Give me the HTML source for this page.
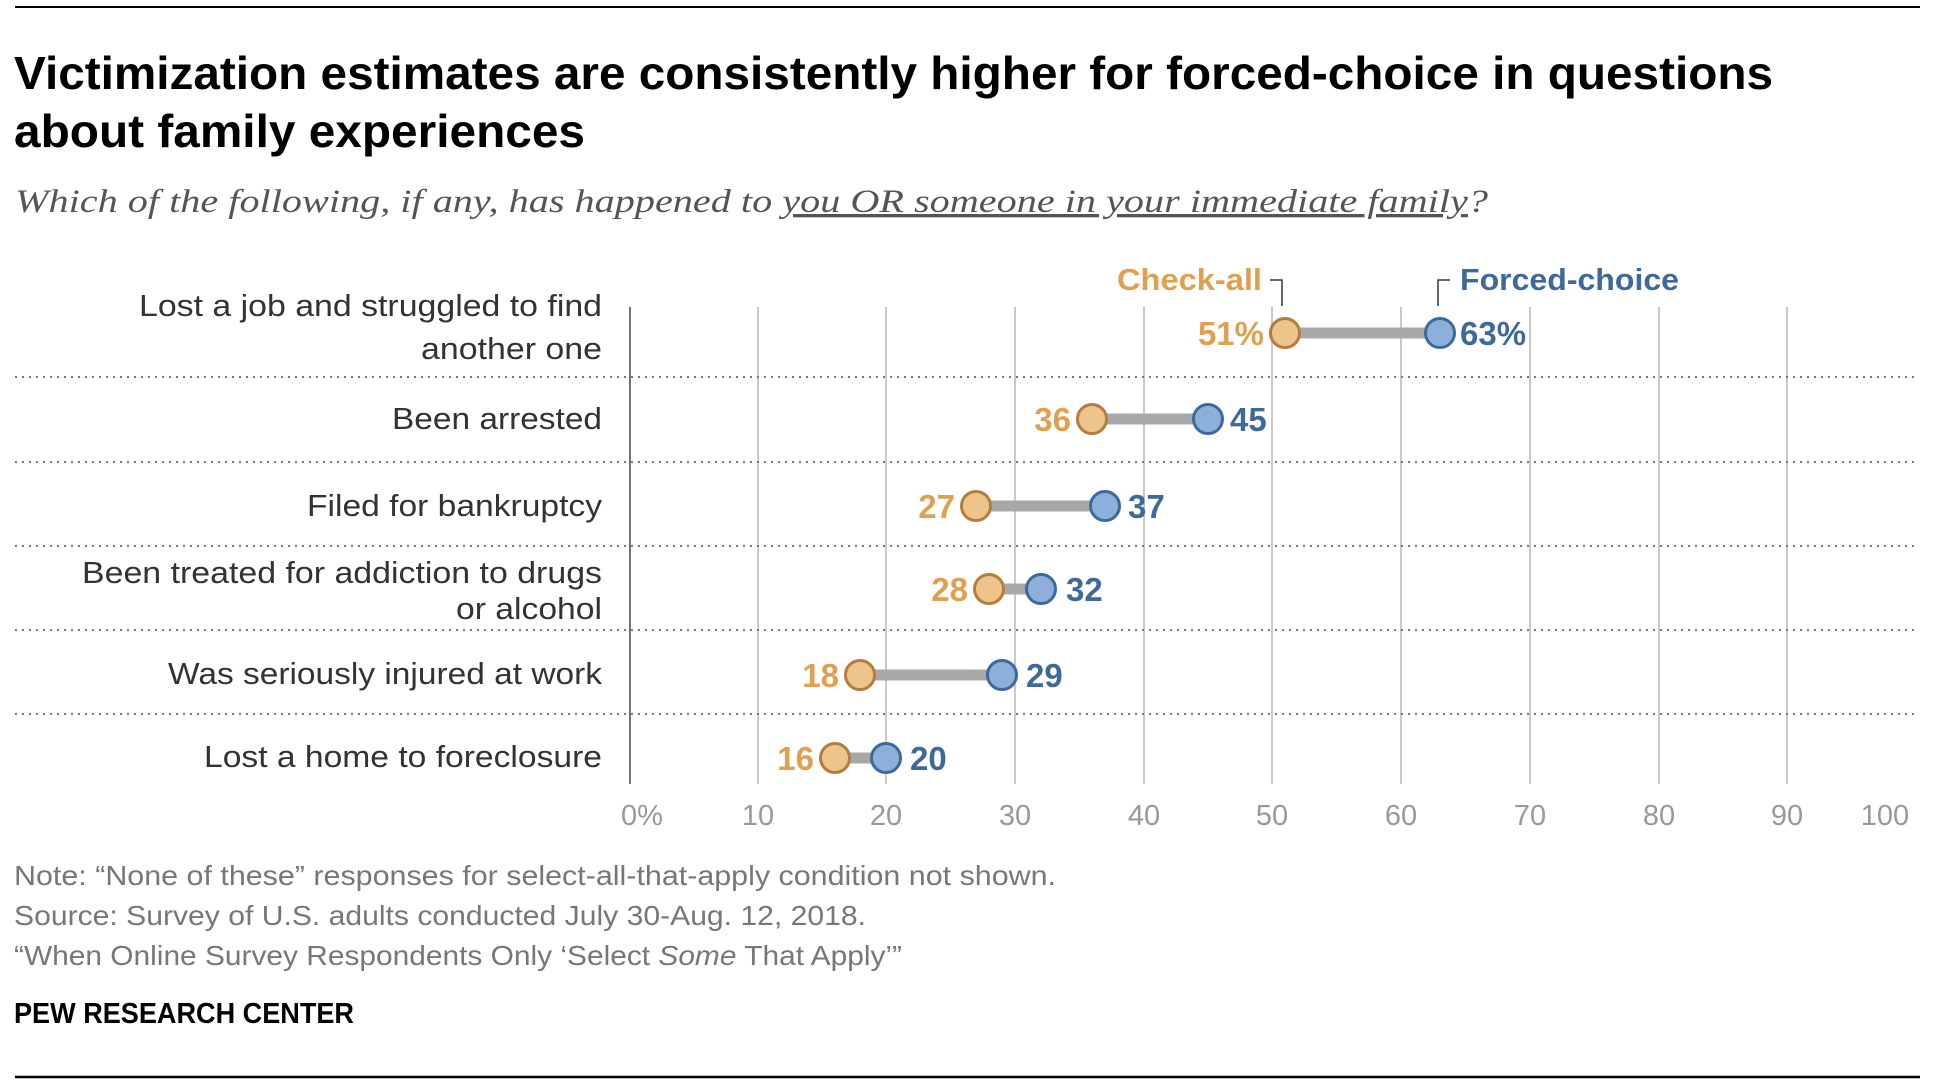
<!DOCTYPE html>
<html><head><meta charset="utf-8"><style>
html,body{margin:0;padding:0;background:#fff}
svg{display:block}
text{font-family:"Liberation Sans",sans-serif}
</style></head><body>
<svg width="1938" height="1088" viewBox="0 0 1938 1088" xmlns="http://www.w3.org/2000/svg">
<rect width="1938" height="1088" fill="#fff"/>
<line x1="15" y1="7" x2="1920" y2="7" stroke="#000" stroke-width="2"/>
<line x1="15" y1="1077" x2="1920" y2="1077" stroke="#000" stroke-width="2.5"/>

<text x="14" y="89" font-size="46" font-weight="bold" fill="#000" textLength="1759" lengthAdjust="spacingAndGlyphs">Victimization estimates are consistently higher for forced-choice in questions</text>
<text x="14" y="147" font-size="46" font-weight="bold" fill="#000" textLength="571" lengthAdjust="spacingAndGlyphs">about family experiences</text>
<text x="15" y="212" font-size="33" font-style="italic" fill="#555" style="font-family:'Liberation Serif',serif" textLength="1473" lengthAdjust="spacingAndGlyphs">Which of the following, if any, has happened to <tspan text-decoration="underline">you OR someone in your immediate family</tspan>?</text>

<!-- gridlines -->
<g stroke="#aaa" stroke-width="1.3">
<line x1="758" y1="307" x2="758" y2="784"/><line x1="886" y1="307" x2="886" y2="784"/>
<line x1="1015" y1="307" x2="1015" y2="784"/><line x1="1144" y1="307" x2="1144" y2="784"/>
<line x1="1272" y1="307" x2="1272" y2="784"/><line x1="1401" y1="307" x2="1401" y2="784"/>
<line x1="1530" y1="307" x2="1530" y2="784"/><line x1="1659" y1="307" x2="1659" y2="784"/>
<line x1="1787" y1="307" x2="1787" y2="784"/>
</g>
<line x1="630" y1="307" x2="630" y2="784" stroke="#444" stroke-width="1.5"/>
<g stroke="#777" stroke-width="2" stroke-dasharray="2 5">
<line x1="15" y1="377" x2="1918" y2="377"/><line x1="15" y1="462" x2="1918" y2="462"/>
<line x1="15" y1="546" x2="1918" y2="546"/><line x1="15" y1="630" x2="1918" y2="630"/>
<line x1="15" y1="714" x2="1918" y2="714"/>
</g>

<!-- labels -->
<g font-size="31" fill="#333" lengthAdjust="spacingAndGlyphs">
<text x="139" y="316" textLength="463" lengthAdjust="spacingAndGlyphs">Lost a job and struggled to find</text>
<text x="421" y="359" textLength="181" lengthAdjust="spacingAndGlyphs">another one</text>
<text x="392" y="429" textLength="210" lengthAdjust="spacingAndGlyphs">Been arrested</text>
<text x="307" y="516" textLength="295" lengthAdjust="spacingAndGlyphs">Filed for bankruptcy</text>
<text x="82" y="583" textLength="520" lengthAdjust="spacingAndGlyphs">Been treated for addiction to drugs</text>
<text x="456" y="619" textLength="146" lengthAdjust="spacingAndGlyphs">or alcohol</text>
<text x="168" y="684" textLength="434" lengthAdjust="spacingAndGlyphs">Was seriously injured at work</text>
<text x="204" y="767" textLength="398" lengthAdjust="spacingAndGlyphs">Lost a home to foreclosure</text>
</g>

<!-- ticks -->
<g font-size="29" fill="#999" text-anchor="middle">
<text x="642" y="825">0%</text><text x="758" y="825">10</text><text x="886" y="825">20</text>
<text x="1015" y="825">30</text><text x="1144" y="825">40</text><text x="1272" y="825">50</text>
<text x="1401" y="825">60</text><text x="1530" y="825">70</text><text x="1659" y="825">80</text>
<text x="1787" y="825">90</text><text x="1885" y="825">100</text>
</g>

<!-- legend -->
<text x="1262" y="290" font-size="31" font-weight="bold" fill="#E0A04F" text-anchor="end" textLength="145" lengthAdjust="spacingAndGlyphs">Check-all</text>
<path d="M1270 280 H1282 V306" fill="none" stroke="#333" stroke-width="1.5"/>
<text x="1460" y="290" font-size="31" font-weight="bold" fill="#3D6A98" textLength="219" lengthAdjust="spacingAndGlyphs">Forced-choice</text>
<path d="M1450 280 H1438 V306" fill="none" stroke="#333" stroke-width="1.5"/>

<!-- data -->
<g stroke="#A8A8A8" stroke-width="11">
<line x1="1285" y1="333" x2="1440" y2="333"/>
<line x1="1092" y1="419" x2="1208" y2="419"/>
<line x1="976" y1="506" x2="1105" y2="506"/>
<line x1="989" y1="589" x2="1041" y2="589"/>
<line x1="860" y1="675" x2="1002" y2="675"/>
<line x1="835" y1="758" x2="886" y2="758"/>
</g>
<g fill="#EDC58A" stroke="#B47D3E" stroke-width="3">
<circle cx="1285" cy="333" r="14.5"/><circle cx="1092" cy="419" r="14.5"/>
<circle cx="976" cy="506" r="14.5"/><circle cx="989" cy="589" r="14.5"/>
<circle cx="860" cy="675" r="14.5"/><circle cx="835" cy="758" r="14.5"/>
</g>
<g fill="#8DB0DA" stroke="#3C6A9C" stroke-width="3">
<circle cx="1440" cy="333" r="14.5"/><circle cx="1208" cy="419" r="14.5"/>
<circle cx="1105" cy="506" r="14.5"/><circle cx="1041" cy="589" r="14.5"/>
<circle cx="1002" cy="675" r="14.5"/><circle cx="886" cy="758" r="14.5"/>
</g>
<g font-size="33" font-weight="bold" fill="#E0A04F" text-anchor="end">
<text x="1264" y="345">51%</text><text x="1071" y="431">36</text><text x="955" y="518">27</text>
<text x="968" y="601">28</text><text x="839" y="687">18</text><text x="814" y="770">16</text>
</g>
<g font-size="33" font-weight="bold" fill="#3D6A98">
<text x="1460" y="345">63%</text><text x="1230" y="431">45</text><text x="1128" y="518">37</text>
<text x="1066" y="601">32</text><text x="1026" y="687">29</text><text x="910" y="770">20</text>
</g>

<!-- footer -->
<g font-size="28" fill="#777">
<text x="14" y="885" textLength="1042" lengthAdjust="spacingAndGlyphs">Note: “None of these” responses for select-all-that-apply condition not shown.</text>
<text x="14" y="925" textLength="852" lengthAdjust="spacingAndGlyphs">Source: Survey of U.S. adults conducted July 30-Aug. 12, 2018.</text>
<text x="14" y="965" textLength="888" lengthAdjust="spacingAndGlyphs">“When Online Survey Respondents Only ‘Select <tspan font-style="italic">Some</tspan> That Apply’”</text>
</g>
<text x="14" y="1023" font-size="29" font-weight="bold" fill="#000" textLength="340" lengthAdjust="spacingAndGlyphs">PEW RESEARCH CENTER</text>
</svg>
</body></html>
